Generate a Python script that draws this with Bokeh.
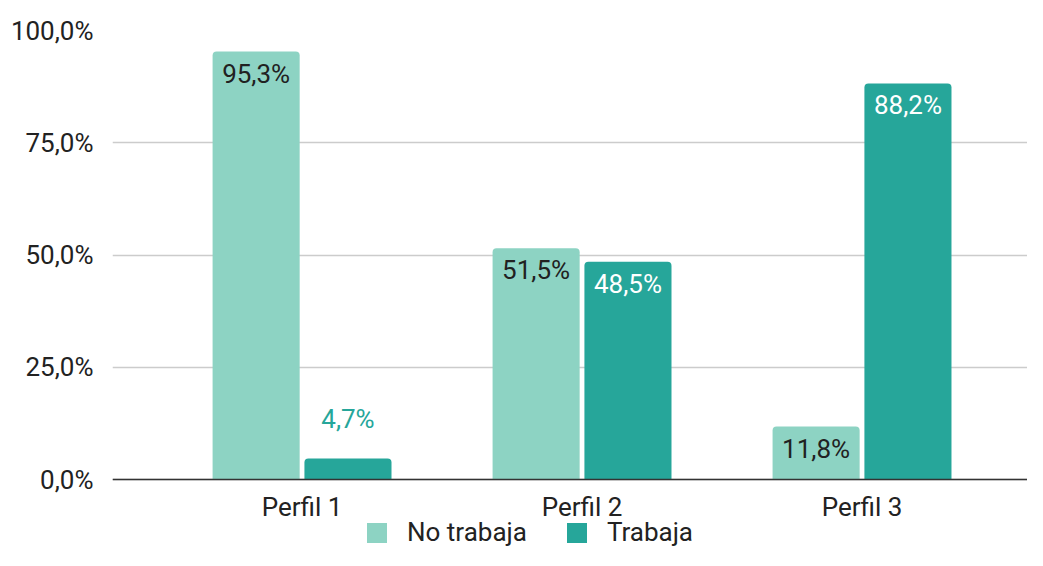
from bokeh.plotting import figure
from bokeh.models import Range1d, FixedTicker, ColumnDataSource, Legend, LegendItem, Span
from bokeh.core.properties import value
from bokeh.embed import file_html
from bokeh.resources import INLINE

categories = ["Perfil 1", "Perfil 2", "Perfil 3"]
series_names = ["No trabaja", "Trabaja"]
no_trabaja = [95.3, 51.5, 11.8]
trabaja = [4.7, 48.5, 88.2]
y_ticks = [0, 25, 50, 75, 100]
y_tick_labels = ["0,0%", "25,0%", "50,0%", "75,0%", "100,0%"]

LIGHT = "#8dd3c3"
DARK = "#26a69a"
FONT = "Roboto"
FS = "26px"

def fmt(v):
    return f"{v:.1f}".replace(".", ",") + "%"

# frame extends below 0 to leave room for category labels and legend
p = figure(width=1027, height=550, output_backend="svg", toolbar_location=None,
           x_range=Range1d(-0.677, 2.591), y_range=Range1d(-15.81, 100),
           min_border_left=112, min_border_right=0, min_border_top=30, min_border_bottom=0)
p.outline_line_color = None
p.background_fill_color = "white"
p.border_fill_color = "white"

xs = list(range(len(categories)))
d = 0.164
w = 0.311

src_a = ColumnDataSource(dict(x=[i - d for i in xs], top=no_trabaja))
src_b = ColumnDataSource(dict(x=[i + d for i in xs], top=trabaja))
r_a = p.vbar(x="x", top="top", bottom=0, width=w, source=src_a, fill_color=LIGHT,
             line_color=None, border_radius=(4, 4, 0, 0))
r_b = p.vbar(x="x", top="top", bottom=0, width=w, source=src_b, fill_color=DARK,
             line_color=None, border_radius=(4, 4, 0, 0))

# value labels
lx, ly, lt, lc, lo = [], [], [], [], []
for i in xs:
    for off, vals, inside_color in ((-d, no_trabaja, "#212121"), (d, trabaja, "#ffffff")):
        v = vals[i]
        lx.append(i + off)
        ly.append(v)
        lt.append(fmt(v))
        if v >= 10:
            lc.append(inside_color)
            lo.append(22)
        else:
            lc.append(DARK)
            lo.append(-39)
lsrc = ColumnDataSource(dict(x=lx, y=ly, t=lt, c=lc, o=lo))
p.text(x="x", y="y", text="t", source=lsrc, text_color="c", y_offset="o",
       text_align="center", text_baseline="middle", text_font=value(FONT),
       text_font_size=FS)

# baseline (x axis line)
p.add_layout(Span(location=0, dimension="width", line_color="#333333", line_width=1.5))

# category labels under the baseline
csrc = ColumnDataSource(dict(x=xs, y=[0] * len(xs), t=categories))
p.text(x="x", y="y", text="t", source=csrc, text_color="#222222", y_offset=27,
       text_align="center", text_baseline="middle", text_font=value(FONT),
       text_font_size=FS)
p.xaxis.visible = False

# y axis
p.yaxis.ticker = FixedTicker(ticks=y_ticks)
p.yaxis.major_label_overrides = {t: l for t, l in zip(y_ticks, y_tick_labels)}
p.yaxis.axis_line_color = None
p.yaxis.major_tick_line_color = None
p.yaxis.minor_tick_line_color = None
p.yaxis.major_label_standoff = 13
p.yaxis.major_label_text_font = FONT
p.yaxis.major_label_text_font_size = FS
p.yaxis.major_label_text_color = "#222222"

p.xgrid.grid_line_color = None
p.ygrid.grid_line_color = "#cccccc"
p.ygrid.grid_line_width = 1.5

legend = Legend(items=[LegendItem(label=series_names[0], renderers=[r_a]),
                       LegendItem(label=series_names[1], renderers=[r_b])],
                orientation="horizontal", location=(252, 3),
                glyph_width=25, glyph_height=25, label_standoff=18, spacing=37,
                padding=0, margin=0, border_line_color=None, background_fill_alpha=0,
                label_text_font=FONT, label_text_font_size=FS,
                label_text_color="#222222", label_height=25)
p.add_layout(legend, "center")

open("out.html", "w").write(file_html(p, INLINE))
